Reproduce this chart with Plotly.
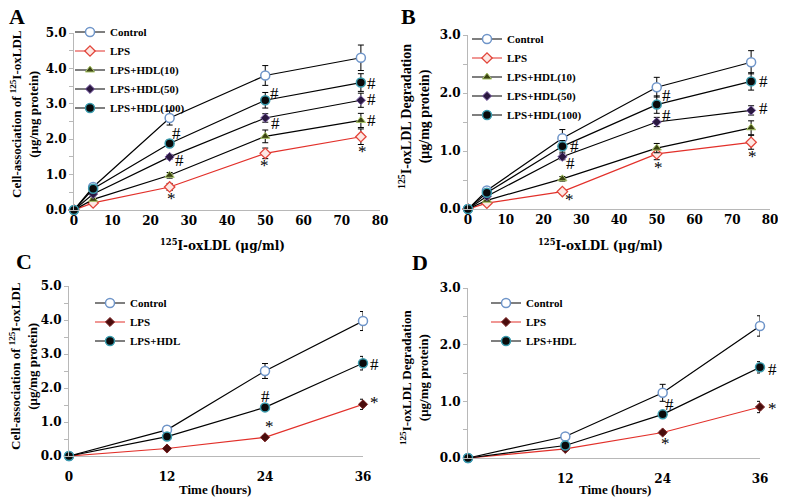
import plotly.graph_objects as go

# panel A / B: concentration series
conc = [0, 5, 25, 50, 75]
a_control = [0, 0.65, 2.6, 3.8, 4.3]
a_control_err = [0, 0.08, 0.2, 0.28, 0.36]
a_lps = [0, 0.2, 0.65, 1.6, 2.07]
a_lps_err = [0, 0.03, 0.1, 0.15, 0.22]
a_hdl10 = [0, 0.3, 0.98, 2.08, 2.53]
a_hdl10_err = [0, 0.03, 0.08, 0.18, 0.2]
a_hdl50 = [0, 0.45, 1.5, 2.6, 3.1]
a_hdl50_err = [0, 0.05, 0.06, 0.12, 0.2]
a_hdl100 = [0, 0.6, 1.88, 3.1, 3.6]
a_hdl100_err = [0, 0.05, 0.1, 0.22, 0.25]

b_control = [0, 0.32, 1.22, 2.1, 2.53]
b_control_err = [0, 0.03, 0.15, 0.17, 0.2]
b_lps = [0, 0.1, 0.3, 0.95, 1.15]
b_lps_err = [0, 0.02, 0.04, 0.1, 0.12]
b_hdl10 = [0, 0.15, 0.52, 1.05, 1.4]
b_hdl10_err = [0, 0.02, 0.04, 0.08, 0.12]
b_hdl50 = [0, 0.22, 0.9, 1.5, 1.7]
b_hdl50_err = [0, 0.03, 0.05, 0.08, 0.08]
b_hdl100 = [0, 0.28, 1.08, 1.8, 2.2]
b_hdl100_err = [0, 0.03, 0.1, 0.15, 0.15]

# panel C / D: time series
hours = [0, 12, 24, 36]
c_control = [0, 0.77, 2.5, 3.97]
c_control_err = [0, 0.1, 0.22, 0.28]
c_lps = [0, 0.22, 0.55, 1.52]
c_lps_err = [0, 0.03, 0.05, 0.15]
c_hdl = [0, 0.57, 1.43, 2.73]
c_hdl_err = [0, 0.05, 0.05, 0.2]

d_control = [0, 0.38, 1.15, 2.33]
d_control_err = [0, 0.03, 0.15, 0.18]
d_lps = [0, 0.16, 0.45, 0.9]
d_lps_err = [0, 0.03, 0.03, 0.1]
d_hdl = [0, 0.22, 0.77, 1.6]
d_hdl_err = [0, 0.03, 0.03, 0.1]

# significance marks (x, y, text)
marks_a = [(26.8, 2.17, '#'), (27.6, 1.39, '#'), (25.6, 0.33, '*'),
           (52.5, 3.3, '#'), (52.8, 2.45, '#'), (49.9, 1.27, '*'),
           (77.9, 3.58, '#'), (77.9, 3.11, '#'), (77.9, 2.52, '#'), (75.3, 1.65, '*')]
marks_b = [(28.3, 1.08, '#'), (27.2, 0.79, '#'), (27.0, 0.17, '*'),
           (52.6, 1.96, '#'), (52.6, 1.62, '#'), (50.4, 0.71, '*'),
           (78.2, 2.2, '#'), (78.2, 1.74, '#'), (75.4, 0.91, '*')]
marks_c = [(24.05, 1.76, '#'), (24.5, 0.88, '*'), (37.4, 2.7, '#'), (37.4, 1.57, '*')]
marks_d = [(24.9, 0.94, '#'), (24.3, 0.25, '*'), (37.6, 1.56, '#'), (37.6, 0.87, '*')]

SERIF = 'Liberation Serif'
WIDE = 'DejaVu Serif'
AX = '#b8b8b8'
W, H, OFF = 786, 502, 8   # page puts the plot 8px in from the corner


def fx(p):
    return (p - OFF) / W


def fy(p):
    return 1 - (p - OFF) / H


ctrl_m = dict(symbol='circle', size=9, color='white', line=dict(color='#6f95c9', width=1.5))
lps_open = dict(symbol='diamond', size=8, color='#fde8e4', line=dict(color='#e2453a', width=1.3))
lps_fill = dict(symbol='diamond', size=7, color='#4a0c0c', line=dict(color='#7a2020', width=1))
h10_m = dict(symbol='triangle-up', size=8, color='#3b4312', line=dict(color='#a9c46a', width=1))
h50_m = dict(symbol='diamond', size=7, color='#2a1840', line=dict(color='#7f63a8', width=1))
h100_m = dict(symbol='circle', size=9, color='#0a0a0a', line=dict(color='#3a9cae', width=1.5))

fig = go.Figure()


def add(x, y, err, name, marker, color, xa, ya, leg):
    fig.add_trace(go.Scatter(
        x=x, y=y, mode='lines+markers', name=name, marker=marker,
        line=dict(color=color, width=1.2), xaxis=xa, yaxis=ya, legend=leg,
        error_y=dict(type='data', array=err, color='black', thickness=1, width=3),
        cliponaxis=False))


add(conc, a_control, a_control_err, 'Control', ctrl_m, 'black', 'x', 'y', 'legend')
add(conc, a_lps, a_lps_err, 'LPS', lps_open, '#e2302a', 'x', 'y', 'legend')
add(conc, a_hdl10, a_hdl10_err, 'LPS+HDL(10)', h10_m, 'black', 'x', 'y', 'legend')
add(conc, a_hdl50, a_hdl50_err, 'LPS+HDL(50)', h50_m, 'black', 'x', 'y', 'legend')
add(conc, a_hdl100, a_hdl100_err, 'LPS+HDL(100)', h100_m, 'black', 'x', 'y', 'legend')

add(conc, b_control, b_control_err, 'Control', ctrl_m, 'black', 'x2', 'y2', 'legend2')
add(conc, b_lps, b_lps_err, 'LPS', lps_open, '#e2302a', 'x2', 'y2', 'legend2')
add(conc, b_hdl10, b_hdl10_err, 'LPS+HDL(10)', h10_m, 'black', 'x2', 'y2', 'legend2')
add(conc, b_hdl50, b_hdl50_err, 'LPS+HDL(50)', h50_m, 'black', 'x2', 'y2', 'legend2')
add(conc, b_hdl100, b_hdl100_err, 'LPS+HDL(100)', h100_m, 'black', 'x2', 'y2', 'legend2')

add(hours, c_control, c_control_err, 'Control', ctrl_m, 'black', 'x3', 'y3', 'legend3')
add(hours, c_lps, c_lps_err, 'LPS', lps_fill, '#e2302a', 'x3', 'y3', 'legend3')
add(hours, c_hdl, c_hdl_err, 'LPS+HDL', h100_m, 'black', 'x3', 'y3', 'legend3')

add(hours, d_control, d_control_err, 'Control', ctrl_m, 'black', 'x4', 'y4', 'legend4')
add(hours, d_lps, d_lps_err, 'LPS', lps_fill, '#e2302a', 'x4', 'y4', 'legend4')
add(hours, d_hdl, d_hdl_err, 'LPS+HDL', h100_m, 'black', 'x4', 'y4', 'legend4')


def xax(x0, x1, anchor, rng, **kw):
    d = dict(domain=[fx(x0), fx(x1)], anchor=anchor, range=rng, showline=True, linecolor=AX,
             linewidth=1, showgrid=False, zeroline=False, ticks='', automargin=False,
             tickfont=dict(family=WIDE, size=12, color='black', weight='bold'))
    d.update(kw)
    return d


def yax(y0, y1, anchor, rng):
    return dict(domain=[fy(y0), fy(y1)], anchor=anchor, range=rng, showline=True, linecolor=AX,
                linewidth=1, showgrid=False, zeroline=False, ticks='outside', ticklen=4,
                tickcolor=AX, dtick=1, tickformat='.1f', automargin=False,
                minor=dict(dtick=0.5, ticks='outside', ticklen=4, tickcolor=AX, showgrid=False),
                tickfont=dict(family=WIDE, size=12, color='black', weight='bold'))


legfont = dict(family=SERIF, size=11, color='black', weight='bold')


def leg(x, y):
    return dict(x=fx(x), y=fy(y), xanchor='left', yanchor='top', font=legfont,
                bgcolor='rgba(0,0,0,0)', tracegroupgap=0, itemsizing='trace', itemwidth=30)


fig.update_layout(
    width=W, height=H, margin=dict(l=0, r=0, t=0, b=0, autoexpand=False),
    paper_bgcolor='white', plot_bgcolor='white',
    xaxis=xax(74, 380, 'y', [0, 80], dtick=10),
    yaxis=yax(210, 33, 'x', [0, 5]),
    xaxis2=xax(468, 770, 'y2', [0, 80], dtick=10),
    yaxis2=yax(209, 35, 'x2', [0, 3]),
    xaxis3=xax(69, 363, 'y3', [0, 36], tickvals=[0, 12, 24, 36], ticklabelstandoff=10),
    yaxis3=yax(456, 286, 'x3', [0, 5]),
    xaxis4=xax(468, 760, 'y4', [0, 36], tickvals=[12, 24, 36], ticklabelstandoff=10),
    yaxis4=yax(458, 288, 'x4', [0, 3]),
    legend=leg(70, 17.5),
    legend2=leg(467, 24.5),
    legend3=leg(90, 288.5),
    legend4=leg(486, 288.5),
    showlegend=True,
)

# significance marks, x in domain fraction so the ones past the last point still show
for marks, n, xmax in [(marks_a, '', 80), (marks_b, '2', 80), (marks_c, '3', 36), (marks_d, '4', 36)]:
    for mx, my, t in marks:
        fig.add_annotation(x=mx / xmax, y=my, xref='x' + n + ' domain', yref='y' + n, text=t,
                           xanchor='center', yanchor='middle', showarrow=False,
                           font=dict(family=SERIF, size=17, color='black'))

# panel letters
for lx, ly, t in [(17, 17, 'A'), (408, 17, 'B'), (24, 261, 'C'), (420, 262, 'D')]:
    fig.add_annotation(x=fx(lx), y=fy(ly), xref='paper', yref='paper', text=t, showarrow=False,
                       xanchor='center', yanchor='middle',
                       font=dict(family=SERIF, size=22, color='black', weight='bold'))

# axis titles
ytitles = [(24, 114, 'Cell-association of <sup>125</sup>I-oxLDL<br>(μg/mg protein)', 13),
           (414, 117, '<sup>125</sup>I-oxLDL Degradation<br>(μg/mg protein)', 14),
           (23, 366, 'Cell-association of <sup>125</sup>I-oxLDL<br>(μg/mg protein)', 13),
           (414, 378, '<sup>125</sup>I-oxLDL Degradation<br>(μg/mg protein)', 13)]
for tx, ty, t, sz in ytitles:
    fig.add_annotation(x=fx(tx), y=fy(ty), xref='paper', yref='paper', text=t, showarrow=False,
                       xanchor='center', yanchor='middle', textangle=-90,
                       font=dict(family=SERIF, size=sz, color='black', weight='bold'))

xtitles = [(223, 245, '<sup>125</sup>I-oxLDL (μg/ml)', WIDE, 12),
           (600, 245, '<sup>125</sup>I-oxLDL (μg/ml)', WIDE, 12),
           (215, 489, 'Time (hours)', SERIF, 13),
           (615, 489, 'Time (hours)', SERIF, 13)]
for tx, ty, t, fam, sz in xtitles:
    fig.add_annotation(x=fx(tx), y=fy(ty), xref='paper', yref='paper', text=t, showarrow=False,
                       xanchor='center', yanchor='middle',
                       font=dict(family=fam, size=sz, color='black', weight='bold'))

fig.write_html("out.html")
